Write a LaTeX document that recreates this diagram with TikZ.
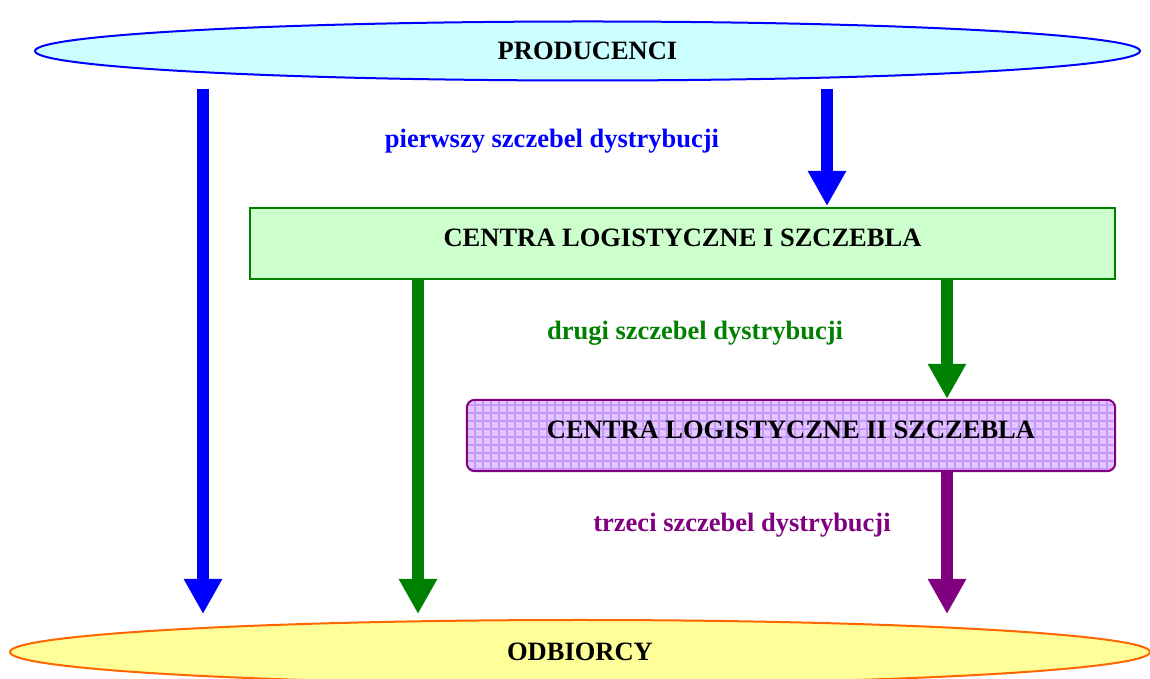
\documentclass[tikz,border=0pt]{standalone}
\usepackage{fontspec}
\setmainfont{Liberation Serif}
\usetikzlibrary{arrows.meta,shapes.geometric}

\definecolor{prodfill}{RGB}{204,255,255}
\definecolor{odbfill}{RGB}{255,255,153}
\definecolor{odbline}{RGB}{255,102,0}
\definecolor{cfill}{RGB}{204,255,204}
\definecolor{cgreen}{RGB}{0,128,0}
\definecolor{cpurple}{RGB}{128,0,128}
\definecolor{lavfill}{RGB}{226,198,255}
\definecolor{lavgrid}{RGB}{200,150,248}

\tikzset{
  bigtext/.style={font=\fontsize{26.5}{30}\selectfont\bfseries},
  labtext/.style={font=\fontsize{26.5}{30}\selectfont\bfseries},
  flow/.style={line width=12pt,-{Triangle[width=36pt,length=35pt]}},
}

\begin{document}
\begin{tikzpicture}[x=1pt,y=1pt]
      \useasboundingbox (0,0) rectangle (1150,679);
      \clip (0,0) rectangle (1150,679);

      % levels
      \node[ellipse,draw=blue,line width=2pt,fill=prodfill,minimum width=1105pt,minimum height=59pt,bigtext](prod) at (587.5,628) {PRODUCENCI};
      \node[ellipse,draw=odbline,line width=2pt,fill=odbfill,minimum width=1140pt,minimum height=64pt,bigtext](odb) at (580,27) {ODBIORCY};
      \node[draw=cgreen,line width=2pt,fill=cfill,minimum width=865pt,minimum height=71pt](c1) at (682.5,435.5) {};
      \node[bigtext] at ([yshift=6pt]c1) {CENTRA LOGISTYCZNE I SZCZEBLA};
      \node[fill=lavfill,rounded corners=8pt,minimum width=648pt,minimum height=71pt](c2) at (791,243.5) {};
      \begin{scope}
        \clip[rounded corners=8pt] (c2.south west) rectangle (c2.north east);
        \draw[lavgrid,line width=1.5pt,xshift=3pt,yshift=2pt] (c2.south west) grid[step=8pt] (c2.north east);
      \end{scope}
      \draw[cpurple,line width=2pt,rounded corners=8pt] (c2.south west) rectangle (c2.north east);
      \node[bigtext] at ([yshift=6pt]c2) {CENTRA LOGISTYCZNE II SZCZEBLA};

      % columns of the arrows
      \coordinate (colA) at (203,0);
      \coordinate (colB) at (418,0);
      \coordinate (colC) at (827,0);
      \coordinate (colD) at (947,0);

      \draw[flow,blue,shorten <=7.5pt,shorten >=5pt] (prod.south -| colA) -- (odb.north -| colA);
      \draw[flow,blue,shorten <=7.5pt,shorten >=1pt] (prod.south -| colC) -- (c1.north -| colC);
      \draw[flow,cgreen,shorten >=5pt] (c1.south -| colB) -- (odb.north -| colB);
      \draw[flow,cgreen,shorten >=1pt] (c1.south -| colD) -- (c2.north -| colD);
      \draw[flow,cpurple,shorten >=5pt] (c2.south -| colD) -- (odb.north -| colD);

      % labels
      \node[labtext,text=blue](l1) at (552,538) {pierwszy szczebel dystrybucji};
      \node[labtext,text=cgreen](l2) at (695,346) {drugi szczebel dystrybucji};
      \node[labtext,text=cpurple](l3) at (742,154) {trzeci szczebel dystrybucji};
    \end{tikzpicture}
\end{document}
